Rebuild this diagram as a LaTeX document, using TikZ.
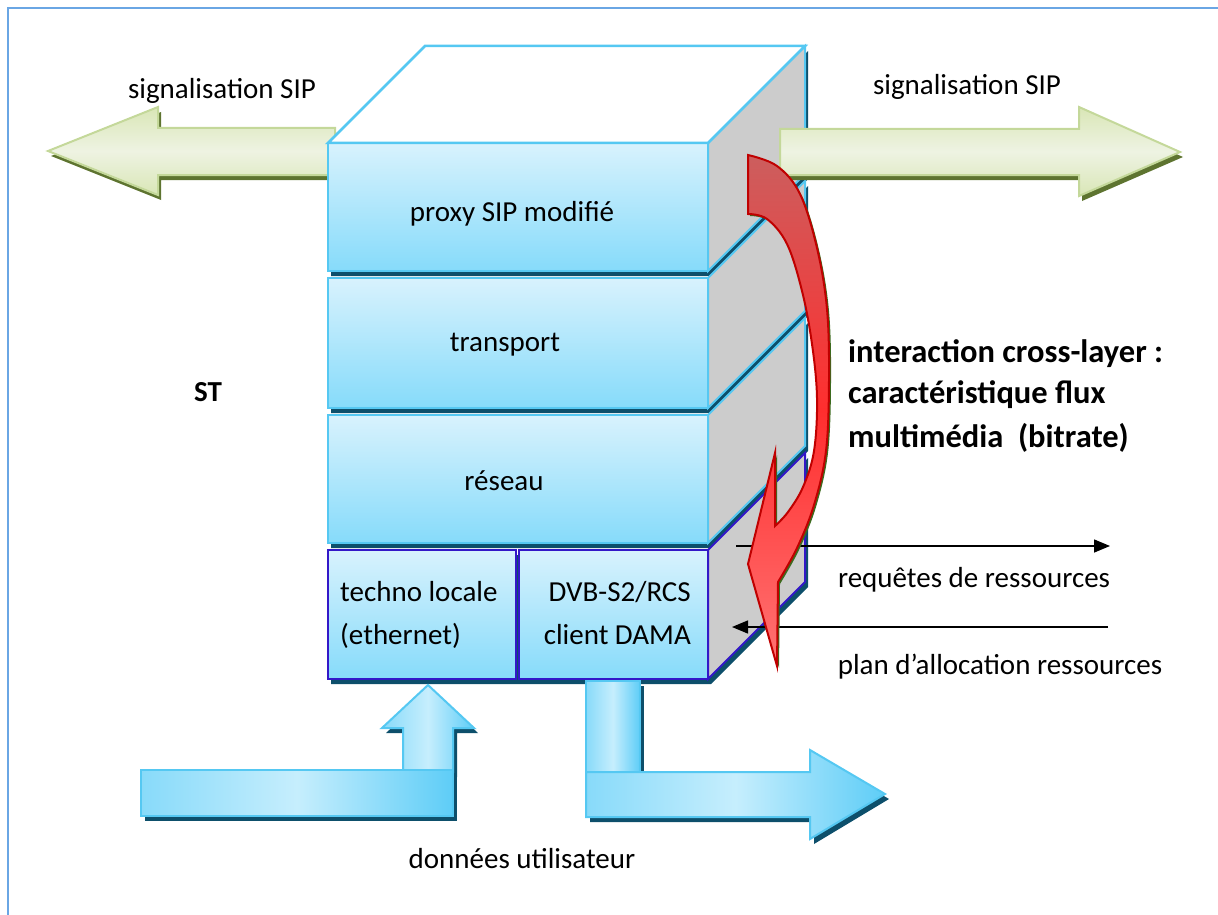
\documentclass[tikz,border=0pt]{standalone}
\usepackage{fontspec}
\setmainfont{Carlito}
\usetikzlibrary{arrows.meta}
\definecolor{frameblue}{HTML}{6AA6E4}
\definecolor{cyedge}{HTML}{55C8F2}
\definecolor{lbtop}{HTML}{D8F2FD}
\definecolor{lbbot}{HTML}{86DBFA}
\definecolor{sidegray}{HTML}{CCCCCC}
\definecolor{shd}{HTML}{0D4F6B}
\definecolor{dkblue}{HTML}{3318C8}
\definecolor{gfill1}{HTML}{EEF3E2}
\definecolor{gfill2}{HTML}{D9E6B6}
\definecolor{gedge}{HTML}{C4D89A}
\definecolor{gshd}{HTML}{5E7430}
\definecolor{rtop}{HTML}{CC5E5E}
\definecolor{rmid}{HTML}{FF2E2E}
\definecolor{rbot}{HTML}{FF7373}
\definecolor{redge}{HTML}{C00000}
\definecolor{rshd}{HTML}{3D6B1F}
\definecolor{bar1}{HTML}{C6EEFD}
\definecolor{bar2}{HTML}{5ECDF7}
\tikzset{
  txt/.style={font=\fontsize{29}{35}\selectfont, inner sep=0pt},
  btxt/.style={font=\fontsize{29}{35}\selectfont\bfseries, inner sep=0pt},
  bigbtxt/.style={font=\fontsize{32.5}{39}\selectfont\bfseries, inner sep=0pt},
  front/.style={top color=lbtop, bottom color=lbbot, draw=cyedge, line width=2pt, line join=miter},
  frontb/.style={top color=lbtop, bottom color=lbbot, draw=dkblue, line width=2pt},
  sideface/.style={fill=sidegray, draw=cyedge, line width=2pt},
  sidefaceb/.style={fill=sidegray, draw=dkblue, line width=2pt},
  greenarrow/.style={top color=gfill2, bottom color=gfill2, middle color=gfill1, draw=gedge, line width=2pt},
  bluearrow/.style={left color=bar2!60!bar1, right color=bar2, middle color=bar1, draw=cyedge, line width=2pt},
  redarrow/.style={top color=rtop, bottom color=rbot, middle color=rmid, draw=redge, line width=2pt, line join=miter},
  blk/.style={line width=1.5pt, -{Triangle[length=16pt,width=13pt]}},
}
\begin{document}
\begin{tikzpicture}[x=1pt,y=-1pt]
\useasboundingbox (0,0) rectangle (1218,915);
% frame
\draw[frameblue, line width=2.5pt] (8,915) -- (8,8) -- (1218,8);

% left green arrow (behind cube)
\fill[gshd, shift={(3,5)}] (48,151) -- (158,107) -- (158,128) -- (335,128) -- (335,175) -- (158,175) -- (158,195) -- cycle;
\path[greenarrow] (48,151) -- (158,107) -- (158,128) -- (335,128) -- (335,175) -- (158,175) -- (158,195) -- cycle;

% cube layers
\foreach \t/\b in {143/271,278/408,415/543}{
  \fill[shd] (331,{\t+5}) -- (711,{\t+5}) -- (808,{\t-92}) -- (808,{\b-92}) -- (711,{\b+5}) -- (331,{\b+5}) -- cycle;
  \path[sideface] (708,\t) -- (805,{\t-97}) -- (805,{\b-97}) -- (708,\b) -- cycle;
  \path[front] (328,\t) rectangle (708,\b);
}
% bottom layer
\fill[shd] (331,555) -- (711,555) -- (808,458) -- (808,587) -- (711,684) -- (331,684) -- cycle;
\path[sidefaceb] (708,550) -- (805,453) -- (805,582) -- (708,679) -- cycle;
\path[frontb] (328,550) rectangle (516,679);
\path[frontb] (519,550) rectangle (708,679);
% top face
\path[fill=white, draw=cyedge, line width=2.5pt] (328,143) -- (425,46) -- (805,46) -- (708,143) -- cycle;

% right green arrow
\fill[gshd, shift={(3,5)}] (780,129) -- (1079,129) -- (1079,107) -- (1180,152) -- (1079,196) -- (1079,175) -- (780,175) -- cycle;
\path[greenarrow] (780,129) -- (1079,129) -- (1079,107) -- (1180,152) -- (1079,196) -- (1079,175) -- (780,175) -- cycle;

% black arrows
\coordinate (rq1) at (736,546);
\coordinate (rq2) at (1110,546);
\coordinate (pl1) at (1108,627);
\coordinate (pl2) at (732,627);
\draw[blk] (rq1) -- (rq2);
\draw[blk] (pl1) -- (pl2);

% red curved arrow
\fill[rshd, shift={(2,2)}] plot[smooth, tension=0.6] coordinates {(748,155) (777,166) (800,194) (817,248) (827,309) (829,380) (826,451) (814,505) (797,548) (778,582)} -- (777,666) -- (748,564) -- (775,453) -- (775,526) -- plot[smooth, tension=0.6] coordinates {(775,526) (788,512) (803,487) (814,451) (817,398) (812,344) (802,291) (787,244) (767,219) (748,214)} -- cycle;
\path[redarrow] plot[smooth, tension=0.6] coordinates {(748,155) (777,166) (800,194) (817,248) (827,309) (829,380) (826,451) (814,505) (797,548) (778,582)} -- (777,666) -- (748,564) -- (775,453) -- (775,526) -- plot[smooth, tension=0.6] coordinates {(775,526) (788,512) (803,487) (814,451) (817,398) (812,344) (802,291) (787,244) (767,219) (748,214)} -- cycle;

% blue input arrow
\fill[shd, shift={(4,5)}] (403,772) -- (403,728) -- (382,728) -- (428,685) -- (474,728) -- (453,728) -- (453,772) -- cycle;
\path[bluearrow] (403,772) -- (403,728) -- (382,728) -- (428,685) -- (474,728) -- (453,728) -- (453,772) -- cycle;
\fill[shd, shift={(4,5)}] (141,770) rectangle (453,816);
\path[bluearrow] (141,770) rectangle (453,816);
% blue output arrow
\fill[shd, shift={(4,5)}] (586,681) rectangle (640,800);
\path[bluearrow] (586,681) rectangle (640,800);
\fill[shd, shift={(4,5)}] (586,772) -- (810,772) -- (810,750) -- (885,794) -- (810,839) -- (810,817) -- (586,817) -- cycle;
\path[bluearrow] (586,772) -- (810,772) -- (810,750) -- (885,794) -- (810,839) -- (810,817) -- (586,817) -- cycle;

% texts
\node[txt, anchor=base] (sigl) at (222,99) {signalisation SIP};
\node[txt, anchor=base] (sigr) at (967,95) {signalisation SIP};
\node[txt, anchor=base] (proxy) at (512,221) {proxy SIP modifié};
\node[txt, anchor=base] (transp) at (505,351) {transport};
\node[txt, anchor=base] (reseau) at (504,490) {réseau};
\node[btxt, anchor=base] (st) at (208,401) {ST};
\node[txt, anchor=base west] (techno1) at (340,601) {techno locale};
\node[txt, anchor=base west] (techno2) at (340,644) {(ethernet)};
\node[txt, anchor=base east] (dvb1) at (691,601) {DVB-S2/RCS};
\node[txt, anchor=base east] (dvb2) at (691,644) {client DAMA};
\node[bigbtxt, anchor=base west] (cl1) at (848,362) {interaction cross-layer :};
\node[bigbtxt, anchor=base west] (cl2) at (848,403) {caractéristique flux};
\node[bigbtxt, anchor=base west] (cl3) at (848,447) {multimédia\ \ (bitrate)};
\node[txt, anchor=base] (req) at (974,587) {requêtes de ressources};
\node[txt, anchor=base] (plan) at (1000,674) {plan d’allocation ressources};
\node[txt, anchor=base] (donnees) at (522,868) {données utilisateur};
\end{tikzpicture}
\end{document}
